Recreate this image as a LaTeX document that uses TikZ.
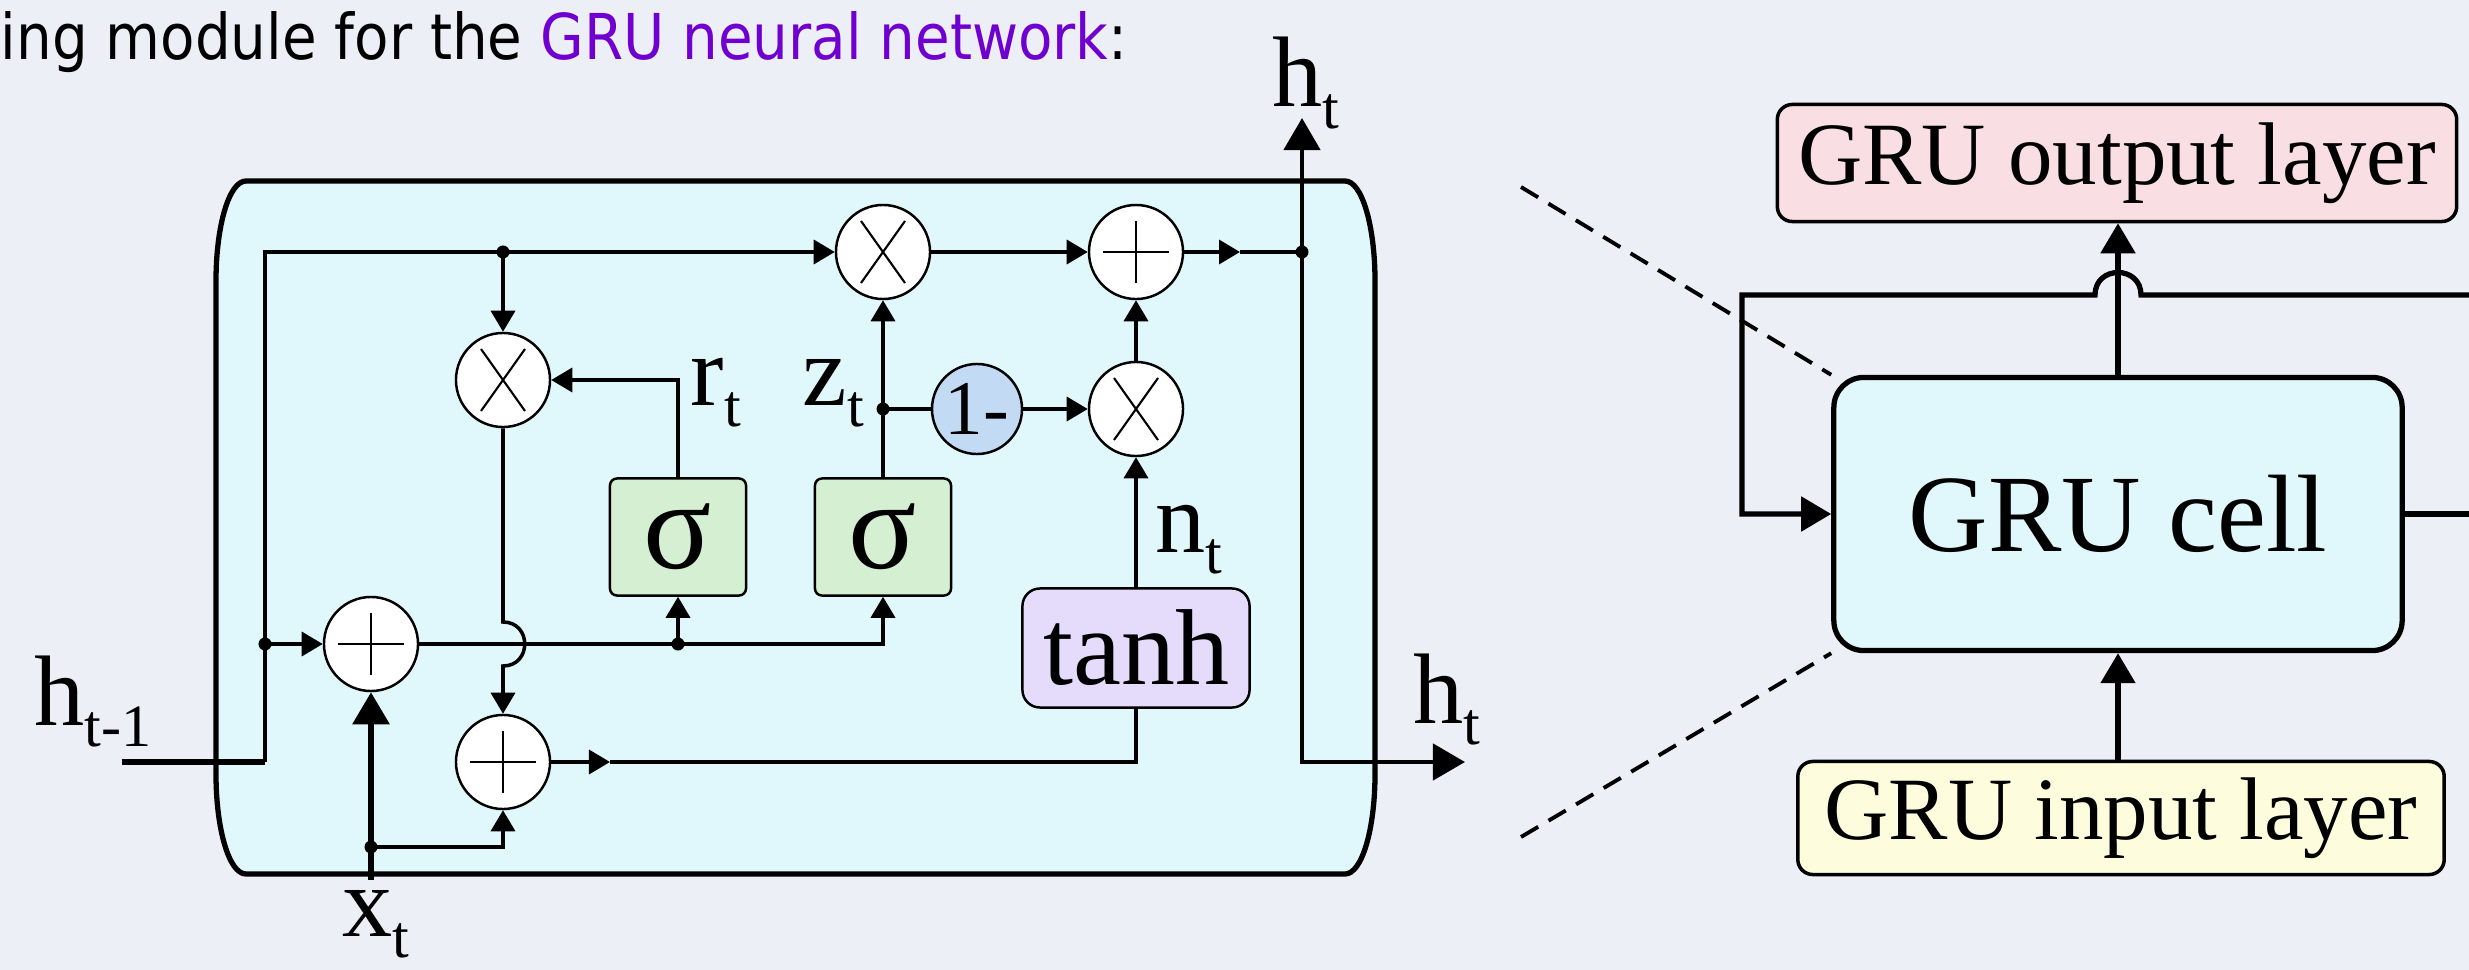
\documentclass[tikz,border=0pt]{standalone}
\usepackage{graphicx}
\usepackage{fontspec}
\setmainfont{Liberation Serif}
\newfontfamily\titlefont{DejaVu Sans}
\usetikzlibrary{arrows.meta}
\definecolor{bgcol}{HTML}{ECEFF6}
\definecolor{cellfill}{HTML}{E0F8FB}
\definecolor{sigfill}{HTML}{D5EFD2}
\definecolor{tanhfill}{HTML}{E4DCFA}
\definecolor{onefill}{HTML}{C3DAF5}
\definecolor{outfill}{HTML}{F9DEE4}
\definecolor{infill}{HTML}{FDFDDD}
\definecolor{titlepurple}{HTML}{7000D0}
\newcommand{\lsub}[1]{\raisebox{-0.21em}{\scalebox{0.6}{#1}}}
\tikzset{
  opc/.style={circle, draw, fill=white, line width=0.7pt, minimum size=0.94cm, inner sep=0pt},
  mulnode/.style={opc, path picture={
    \draw[line width=0.6pt] ([xshift=-0.22cm,yshift=-0.31cm]path picture bounding box.center) -- ([xshift=0.22cm,yshift=0.31cm]path picture bounding box.center);
    \draw[line width=0.6pt] ([xshift=-0.22cm,yshift=0.31cm]path picture bounding box.center) -- ([xshift=0.22cm,yshift=-0.31cm]path picture bounding box.center);}},
  addnode/.style={opc, path picture={
    \draw[line width=0.6pt] ([xshift=-0.33cm]path picture bounding box.center) -- ([xshift=0.33cm]path picture bounding box.center);
    \draw[line width=0.6pt] ([yshift=-0.31cm]path picture bounding box.center) -- ([yshift=0.31cm]path picture bounding box.center);}},
  gatebox/.style={draw, line width=0.7pt, fill=sigfill, rounded corners=2pt, minimum width=1.36cm, minimum height=1.17cm, inner sep=0pt, font=\fontsize{36}{37}\selectfont},
  tanhbox/.style={draw, line width=0.7pt, fill=tanhfill, rounded corners=5pt, minimum width=2.27cm, minimum height=1.19cm, inner sep=0pt, font=\fontsize{30.7}{32}\selectfont},
  onenode/.style={circle, draw, line width=0.7pt, fill=onefill, minimum size=0.9cm, inner sep=0pt, font=\fontsize{22}{24}\selectfont},
  lab/.style={inner sep=0pt, font=\fontsize{28.5}{30}\selectfont},
  thinl/.style={line width=1pt},
  ta/.style={line width=1pt, -{Triangle[length=0.21cm,width=0.24cm]}},
  bta/.style={line width=1.7pt, -{Triangle[length=0.32cm,width=0.36cm]}},
  midl/.style={line width=1.3pt},
  rl/.style={line width=1.5pt},
  rta/.style={line width=1.5pt, -{Triangle[length=0.3cm,width=0.34cm]}},
  dashl/.style={line width=1.1pt, dash pattern=on 0.2cm off 0.12cm},
  layerbox/.style={draw, line width=1pt, rounded corners=0.15cm, inner sep=0pt, font=\fontsize{25.3}{27}\selectfont},
  cellbox/.style={draw, line width=1.5pt, fill=cellfill, rounded corners=0.3cm, minimum width=5.68cm, minimum height=2.73cm, inner sep=0pt, font=\fontsize{31.3}{33}\selectfont},
  dot/.style={circle, fill, inner sep=0pt, minimum size=0.13cm}
}
\begin{document}
\begin{tikzpicture}[x=0.01cm,y=-0.01cm]
\useasboundingbox (0,0) rectangle (2469,970);
\fill[bgcol] (0,0) rectangle (2469,970);

% title
\node[anchor=base west, inner sep=0pt] (title) at (0,60)
  {\resizebox{11.26cm}{0.48cm}{\titlefont ing module for the \textcolor{titlepurple}{GRU neural network}:}};

% big GRU cell outline
\draw[line width=1.5pt, fill=cellfill]
  (246,181) -- (1345,181) .. controls (1362,181) and (1375,226) .. (1375,281)
  -- (1375,774) .. controls (1375,829) and (1362,874) .. (1345,874)
  -- (246,874) .. controls (229,874) and (216,829) .. (216,774)
  -- (216,281) .. controls (216,226) and (229,181) .. (246,181) -- cycle;

% operation nodes
\node[mulnode] (mulR) at (503,380) {};
\node[mulnode] (mulZ) at (883,252) {};
\node[addnode] (addH) at (1136,252) {};
\node[onenode] (one) at (977,409) {1-};
\node[mulnode] (mulN) at (1136,409) {};
\node[addnode] (addX) at (371,644) {};
\node[addnode] (addN) at (503,762) {};
\node[gatebox] (sig1) at (678,537) {σ};
\node[gatebox] (sig2) at (883,537) {σ};
\node[tanhbox] (tanh) at (1136,648) {tanh};

% coordinates
\coordinate (hin) at (122,762);
\coordinate (hc1) at (265,762);
\coordinate (hc2) at (265,252);
\coordinate (dtop) at (503,252);
\coordinate (dleft) at (265,644);
\coordinate (dhout) at (1302,252);
\coordinate (htop) at (1302,118);
\coordinate (hbot) at (1302,762);
\coordinate (hright) at (1465,762);
\coordinate (dz) at (883,409);
\coordinate (rturn) at (678,380);
\coordinate (dsig) at (678,644);
\coordinate (sig2c) at (883,644);
\coordinate (xin) at (371,880);
\coordinate (dx) at (371,847);
\coordinate (xc) at (503,847);
\coordinate (tc) at (1136,762);
\coordinate (addarrow) at (1240,252);
\coordinate (naarrow) at (610,762);
\coordinate (hopA) at (503,622);
\coordinate (hopB) at (503,666);

% connectors
\draw[bta, -] (hin) -- (hc1);
\draw[ta] (hc1) -- (hc2) -- (mulZ);
\draw[ta] (dtop) -- (mulR);
\draw[ta] (sig1.north) -- (rturn) -- (mulR);
\draw[ta] (mulZ) -- (addH);
\draw[ta] (addH) -- (addarrow);
\draw[thinl] (addarrow) -- (dhout);
\draw[midl, -{Triangle[length=0.32cm,width=0.36cm]}] (dhout) -- (htop);
\draw[midl, -{Triangle[length=0.32cm,width=0.36cm]}] (dhout) -- (hbot) -- (hright);
\draw[ta] (sig2.north) -- (mulZ.south);
\draw[thinl] (dz) -- (one);
\draw[ta] (one) -- (mulN);
\draw[ta] (mulN) -- (addH);
\draw[ta] (tanh.north) -- (mulN.south);
\draw[ta] (dleft) -- (addX);
\draw[ta] (addX) -- (sig2c) -- (sig2.south);
\draw[ta] (dsig) -- (sig1.south);
\draw[ta] (mulR.south) -- (hopA) .. controls (532,622) and (532,666) .. (hopB) -- (addN.north);
\draw[bta] (xin) -- (addX.south);
\draw[ta] (dx) -- (xc) -- (addN.south);
\draw[ta] (addN) -- (naarrow);
\draw[thinl] (naarrow) -- (tc) -- (tanh.south);

% junction dots
\node[dot] (d1) at (dtop) {};
\node[dot] (d2) at (dleft) {};
\node[dot] (d3) at (dhout) {};
\node[dot] (d4) at (dz) {};
\node[dot] (d5) at (dsig) {};
\node[dot] (d6) at (dx) {};

% labels
\node[lab, anchor=base west] (lhprev) at (34,725) {h\lsub{t-1}};
\node[lab, anchor=base west] (lx) at (342,936) {x\lsub{t}};
\node[lab, anchor=base west] (lhtop) at (1272,107) {h\lsub{t}};
\node[lab, anchor=base west] (lhright) at (1413,723) {h\lsub{t}};
\node[lab, anchor=base west] (lr) at (690,405) {r\lsub{t}};
\node[lab, anchor=base west] (lz) at (802,405) {z\lsub{t}};
\node[lab, anchor=base west] (ln) at (1155,552) {n\lsub{t}};

% right panel
\node[cellbox] (cell) at (2118,514) {GRU cell};
\node[layerbox, fill=outfill, minimum width=6.79cm, minimum height=1.17cm] (outl) at (2117,163) {GRU output layer};
\node[layerbox, fill=infill, minimum width=6.46cm, minimum height=1.13cm] (inl) at (2121,818) {GRU input layer};

\coordinate (fbR) at (2469,295);
\coordinate (fbL) at (1742,295);
\coordinate (fbD) at (1742,514);
\coordinate (cellout) at (2469,514);
\coordinate (dashT) at (1521,187);
\coordinate (dashB) at (1521,837);

\draw[rta] (inl.north -| cell) -- (cell.south);
\draw[rta] (cell.north) -- (cell.north |- outl.south);
\draw[rta] (fbR) -- (2141,295) .. controls (2141,265) and (2095,265) .. (2095,295) -- (fbL) -- (fbD) -- (cell.west);
\draw[rl] (cell.east) -- (cellout);
\draw[dashl] (dashT) -- (cell.north west);
\draw[dashl] (dashB) -- (cell.south west);
\end{tikzpicture}
\end{document}
